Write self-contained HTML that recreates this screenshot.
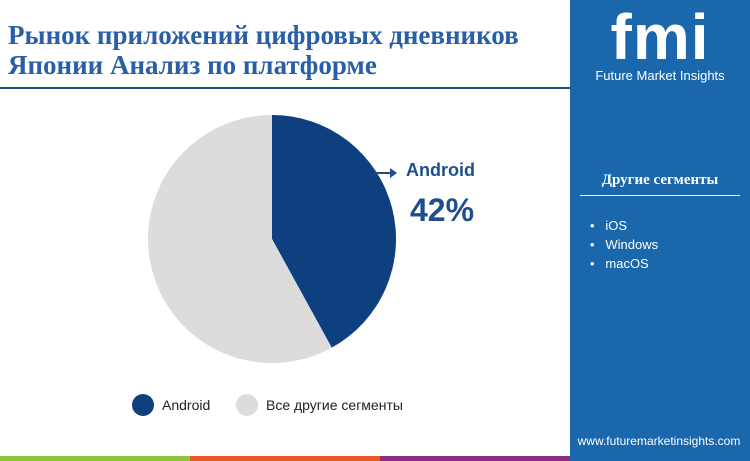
<!DOCTYPE html>
<html><head><meta charset="utf-8"><style>
body{margin:0;width:750px;height:461px;overflow:hidden;background:#fff;font-family:"Liberation Sans",sans-serif;position:relative}
.abs{position:absolute}
</style></head><body>
<div class="abs" style="left:8px;top:20px;font-family:'Liberation Serif',serif;font-weight:bold;font-size:27px;line-height:30px;color:#2a5fa5;white-space:nowrap">Рынок приложений цифровых дневников<br>Японии Анализ по платформе</div>
<div class="abs" style="left:0;top:87px;width:570px;height:2px;background:#1f4e8c"></div>
<div class="abs" style="left:570px;top:0;width:180px;height:461px;background:#1a67ab"></div>
<div class="abs" style="left:595px;top:6px;width:130px;text-align:center;color:#fff;font-family:'Liberation Sans',sans-serif;font-weight:bold;font-size:64px;line-height:62px;letter-spacing:1px">fmi</div>
<div class="abs" style="left:570px;top:68px;width:180px;text-align:center;color:#fff;font-size:13px">Future Market Insights</div>
<div class="abs" style="left:570px;top:172px;width:180px;text-align:center;color:#fff;font-family:'Liberation Serif',serif;font-weight:bold;font-size:15px">Другие сегменты</div>
<div class="abs" style="left:580px;top:195px;width:160px;height:1px;background:#fff"></div>
<div class="abs" style="left:590px;top:216px;color:#fff;font-size:13px;line-height:19px">
<div>•&nbsp;&nbsp; iOS</div>
<div>•&nbsp;&nbsp; Windows</div>
<div>•&nbsp;&nbsp; macOS</div></div>
<div class="abs" style="left:570px;top:434px;width:178px;text-align:center;color:#fff;font-size:12px">www.futuremarketinsights.com</div>
<div class="abs" style="left:0;top:456px;width:190px;height:5px;background:#8cc63f"></div>
<div class="abs" style="left:190px;top:456px;width:190px;height:5px;background:#e85a24"></div>
<div class="abs" style="left:380px;top:456px;width:190px;height:5px;background:#8e2c87"></div>
<svg class="abs" style="left:0;top:0" width="570" height="456" id="pie"></svg>
<div class="abs" style="left:406px;top:160px;color:#1f4e8c;font-weight:bold;font-size:18px">Android</div>
<div class="abs" style="left:410px;top:192px;color:#1f4e8c;font-weight:bold;font-size:32px">42%</div>
<svg class="abs" style="left:374px;top:166px" width="30" height="14"><line x1="0" y1="7" x2="20" y2="7" stroke="#1f4e8c" stroke-width="2"/><path d="M16 2 L23 7 L16 12Z" fill="#1f4e8c"/></svg>
<div class="abs" style="left:132px;top:394px;font-size:14px;color:#222;display:flex;align-items:center"><span style="width:22px;height:22px;border-radius:50%;background:#0e3f7e;display:inline-block;margin-right:8px"></span>Android</div>
<div class="abs" style="left:236px;top:394px;font-size:14px;color:#222;display:flex;align-items:center"><span style="width:22px;height:22px;border-radius:50%;background:#dcdcdc;display:inline-block;margin-right:8px"></span>Все другие сегменты</div>
<script>
const categories=["Android","Все другие сегменты"];
const values=[42,58];
const colors=["#0e3f7e","#dcdcdc"];
const svg=document.getElementById('pie');
const cx=272,cy=239,r=124;
const total=values.reduce((a,b)=>a+b,0);
let a0=0;
values.forEach((v,i)=>{
  const a1=a0+v/total*2*Math.PI;
  const x0=cx+r*Math.sin(a0),y0=cy-r*Math.cos(a0),x1=cx+r*Math.sin(a1),y1=cy-r*Math.cos(a1);
  const p=document.createElementNS('http://www.w3.org/2000/svg','path');
  p.setAttribute('d',`M${cx} ${cy} L${x0} ${y0} A${r} ${r} 0 ${a1-a0>Math.PI?1:0} 1 ${x1} ${y1}Z`);
  p.setAttribute('fill',colors[i]);
  
  
  svg.appendChild(p);
  a0=a1;
});
</script>
</body></html>
